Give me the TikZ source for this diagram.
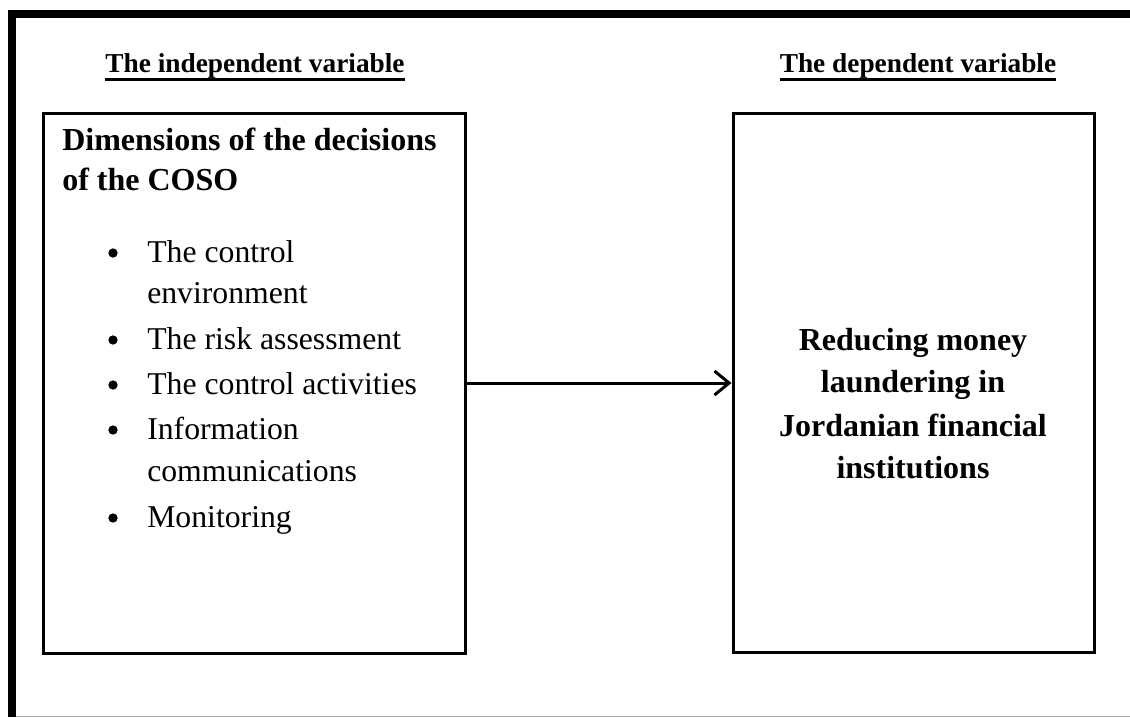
\documentclass[tikz,border=0pt]{standalone}
\usepackage{fontspec}
\setmainfont{Liberation Serif}
\usetikzlibrary{arrows.meta}
\tikzset{
  varbox/.style={draw, line width=2.25pt, inner sep=0pt},
  ttl/.style={anchor=base, inner sep=0pt, font=\fontsize{20.5}{24}\selectfont\bfseries},
  hdr/.style={anchor=base west, inner sep=0pt, font=\fontsize{24}{28}\selectfont\bfseries},
  item/.style={anchor=base west, inner sep=0pt, font=\fontsize{23.8}{28}\selectfont},
  dot/.style={circle, fill, inner sep=0pt, minimum size=7pt},
  res/.style={anchor=base, inner sep=0pt, font=\fontsize{24}{28}\selectfont\bfseries}
}
\begin{document}
\begin{tikzpicture}[x=0.75pt,y=0.75pt,yscale=-1,xscale=1]
\path [use as bounding box] (0,0) rectangle (1130,717);

%Frame
\draw [line width=6pt] (8,14) -- (1130,14) ;
\draw [line width=6pt] (12,10) -- (12,717) ;
\draw [color={rgb, 255:red, 170; green, 170; blue, 170 }] (16,716) -- (1130,716) ;

%Boxes
\draw (254,383) node [varbox, minimum width=316.5pt, minimum height=405pt] (indep) {};
\draw (913.5,383) node [varbox, minimum width=270.75pt, minimum height=404.25pt] (dep) {};

%Arrow
\draw [line width=2.25pt, -{Straight Barb[length=11pt,width=18pt]}] (indep.east) -- (dep.west) ;

% Titles
\draw (255,73) node [ttl] (ttlA) {The independent variable};
\draw [line width=2.25pt] (ttlA.south west) -- (ttlA.south east) ;
\draw (918,73) node [ttl] (ttlB) {The dependent variable};
\draw [line width=2.25pt] (ttlB.south west) -- (ttlB.south east) ;

% Left box text
\draw (62,150) node [hdr] (hdrA) {Dimensions of the decisions};
\draw (62,190) node [hdr] (hdrB) {of the COSO};

\draw (113,253) node [dot] (b1) {};
\draw (147,262) node [item] (i1a) {The control};
\draw (147,303) node [item] (i1b) {environment};
\draw (113,340) node [dot] (b2) {};
\draw (147,349) node [item] (i2) {The risk assessment};
\draw (113,385) node [dot] (b3) {};
\draw (147,394) node [item] (i3) {The control activities};
\draw (113,430) node [dot] (b4) {};
\draw (147,439) node [item] (i4a) {Information};
\draw (147,481) node [item] (i4b) {communications};
\draw (113,518) node [dot] (b5) {};
\draw (147,527) node [item] (i5) {Monitoring};

% Right box text
\draw (913,350) node [res] (r1) {Reducing money};
\draw (913,392) node [res] (r2) {laundering in};
\draw (913,436) node [res] (r3) {Jordanian financial};
\draw (913,478) node [res] (r4) {institutions};

\end{tikzpicture}
\end{document}
